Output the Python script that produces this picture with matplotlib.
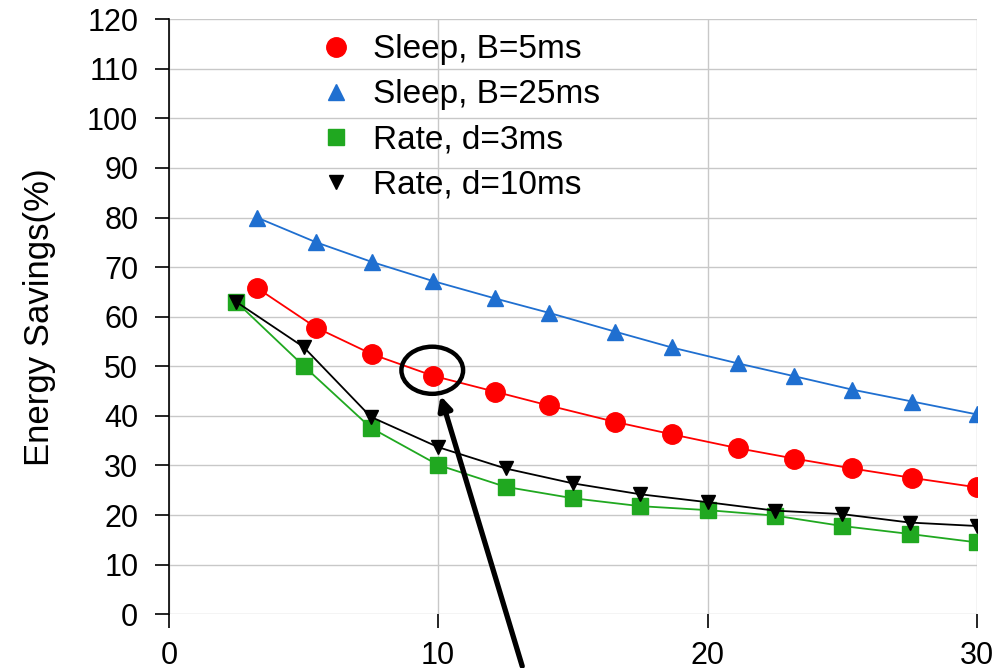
import matplotlib.pyplot as plt
from matplotlib.patches import Ellipse

plt.rcParams['font.family'] = ['Liberation Sans', 'DejaVu Sans']

# data
x_sleep = [3.27, 5.47, 7.56, 9.8, 12.1, 14.1, 16.56, 18.67, 21.12, 23.22, 25.37, 27.6, 30.0]
y_sleep_5 = [65.8, 57.8, 52.4, 48.1, 44.9, 42.1, 38.8, 36.3, 33.5, 31.4, 29.4, 27.5, 25.6]
y_sleep_25 = [80.0, 75.0, 71.0, 67.2, 63.7, 60.8, 57.0, 53.8, 50.6, 48.0, 45.3, 42.9, 40.3]

x_rate = [2.5, 5.0, 7.5, 10.0, 12.5, 15.0, 17.5, 20.0, 22.5, 25.0, 27.5, 30.0]
y_rate_3 = [63.0, 50.1, 37.6, 30.1, 25.7, 23.4, 21.8, 21.0, 19.9, 17.8, 16.2, 14.5]
y_rate_10 = [63.0, 53.9, 39.8, 33.7, 29.4, 26.4, 24.2, 22.6, 20.9, 20.2, 18.5, 17.8]

labels = ['Sleep, B=5ms', 'Sleep, B=25ms', 'Rate, d=3ms', 'Rate, d=10ms']

fig = plt.figure(figsize=(10.05, 6.68), dpi=100)
ax = fig.add_axes([0.168, 0.0804, 0.804, 0.891])

ax.plot(x_sleep, y_sleep_5, color='#ff0000', marker='o', markersize=14, lw=1.3, label=labels[0])
ax.plot(x_sleep, y_sleep_25, color='#1f6fd0', marker='^', markersize=12, lw=1.3, label=labels[1])
ax.plot(x_rate, y_rate_3, color='#20a820', marker='s', markersize=11, lw=1.3, label=labels[2])
ax.plot(x_rate, y_rate_10, color='black', marker='v', markersize=10, lw=1.3, label=labels[3])

ax.set_xlim(0, 30)
ax.set_ylim(0, 120)
ax.set_xticks([0, 10, 20, 30])
ax.set_yticks(range(0, 121, 10))
ax.grid(True, color='#c8c8c8', lw=1)
ax.set_axisbelow(True)
ax.tick_params(labelsize=22, length=10, width=1.2, colors='black')
ax.tick_params(axis='x', pad=9)
ax.tick_params(axis='y', pad=12)
ax.set_ylabel('Energy Savings(%)', fontsize=25)
ax.yaxis.set_label_coords(-0.14, 0.5)
for s in ['top', 'right', 'bottom']:
    ax.spines[s].set_visible(False)
ax.spines['left'].set_linewidth(1.2)

leg = ax.legend(loc='upper left', bbox_to_anchor=(0.17, 0.997), frameon=False,
                fontsize=24, handlelength=1.0, handletextpad=0.6,
                labelspacing=0.42, borderaxespad=0.0)
for h in leg.legend_handles:
    h.set_linestyle('None')

# highlight circle and arrow
ax.add_patch(Ellipse((9.78, 49.2), 2.29, 9.5, fill=False, ec='black', lw=3.2, zorder=5))
ax.annotate('', xy=(10.06, 44.6), xytext=(13.15, -11.0), annotation_clip=False,
            arrowprops=dict(arrowstyle='-|>,head_length=0.8,head_width=0.4',
                            color='black', lw=3.8))

fig.savefig('out.png', dpi=100)
